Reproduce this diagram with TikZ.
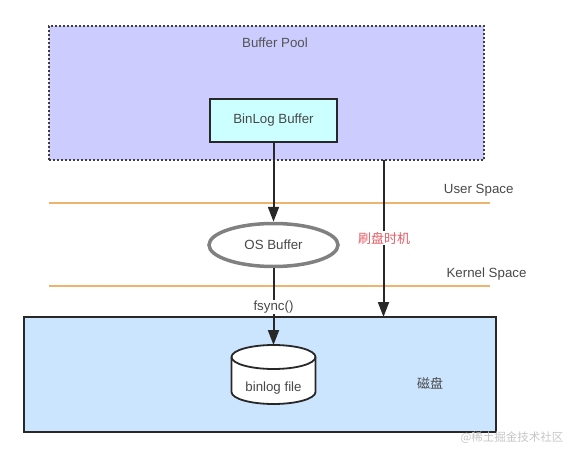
\documentclass[tikz,border=0pt]{standalone}
\usepackage{fontspec}
\setmainfont{Liberation Sans}
\newfontfamily\cjk{Noto Sans CJK SC}
\usetikzlibrary{arrows.meta,positioning,shapes.geometric}
\definecolor{pool}{RGB}{204,204,255}
\definecolor{bbuf}{RGB}{204,255,255}
\definecolor{disk}{RGB}{204,229,255}
\definecolor{spaceorange}{RGB}{238,180,110}
\definecolor{ink}{RGB}{40,40,40}
\definecolor{redtext}{RGB}{230,90,100}

\begin{document}
\begin{tikzpicture}[x=1pt,y=-1pt,font=\fontsize{13.3}{16}\selectfont]
\tikzstyle{box}=[draw=ink,line width=1.8pt,inner sep=0pt,text=ink!85]
\tikzstyle{flow}=[line width=2pt,draw=ink,-{Triangle[length=15pt,width=11pt]}]
\tikzstyle{spaceline}=[draw=spaceorange,line width=1.3pt]
\useasboundingbox (0,0) rectangle (574,458);

% user space
\node [box,fill=pool,draw=ink!90,line width=2pt,dash pattern=on 2pt off 2pt,minimum width=435pt,minimum height=134pt] at (266.5,93) (pool) {};
\node [text=ink!80] at (275,43) (pooltext) {Buffer Pool};
\node [box,fill=bbuf,minimum width=127pt,minimum height=43pt] at (273.5,120.5) (bb) {BinLog Buffer};

% separators
\coordinate (u1) at (49,203);
\coordinate (u2) at (490,203);
\coordinate (k1) at (49,286);
\coordinate (k2) at (490,286);
\draw [spaceline] (u1) -- (u2);
\draw [spaceline] (k1) -- (k2);
\node [text=ink!85,anchor=east] at (517,190) (user) {User Space};
\node [text=ink!85,anchor=east] at (530,274) (kernel) {Kernel Space};

% os buffer
\node [ellipse,draw=gray,line width=3.5pt,fill=white,minimum width=129pt,minimum height=43pt,text=ink!85] at (273.5,245) (os) {OS Buffer};

% disk
\node [box,fill=disk,minimum width=472pt,minimum height=115pt] at (260,374.5) (dsk) {};
\draw [draw=ink,line width=1.8pt,fill=white] (231.5,357) -- (231.5,392) arc (180:0:42 and 12) -- (315.5,357) arc (0:-180:42 and 12) -- cycle;
\draw [draw=ink,line width=1.8pt] (231.5,357) arc (180:0:42 and 12);
\coordinate (filetop) at (273.5,345);
\node [text=ink!85] at (273.5,388) (file) {binlog file};
\node [text=ink!85,font=\cjk\fontsize{13}{15}\selectfont] at (430,383) (dsktext) {磁盘};

\coordinate (f1) at (383.5,160);
\coordinate (f2) at (383.5,317);
\draw [flow] (bb.south) -- (os.north);
\draw [flow] (os.south) -- (filetop);
\draw [flow] (f1) -- (f2);
\node [text=redtext,fill=white,inner sep=1pt,font=\cjk\fontsize{13}{15}\selectfont] at (384,238) (flush) {刷盘时机};
\node [text=ink!85,fill=white,inner sep=1pt] at (273.5,306.7) (fsync) {fsync()};
\node [text=gray!45,font=\cjk\fontsize{11.5}{13}\selectfont,anchor=east] at (567,438) (mark) {@稀土掘金技术社区};
\end{tikzpicture}
\end{document}
